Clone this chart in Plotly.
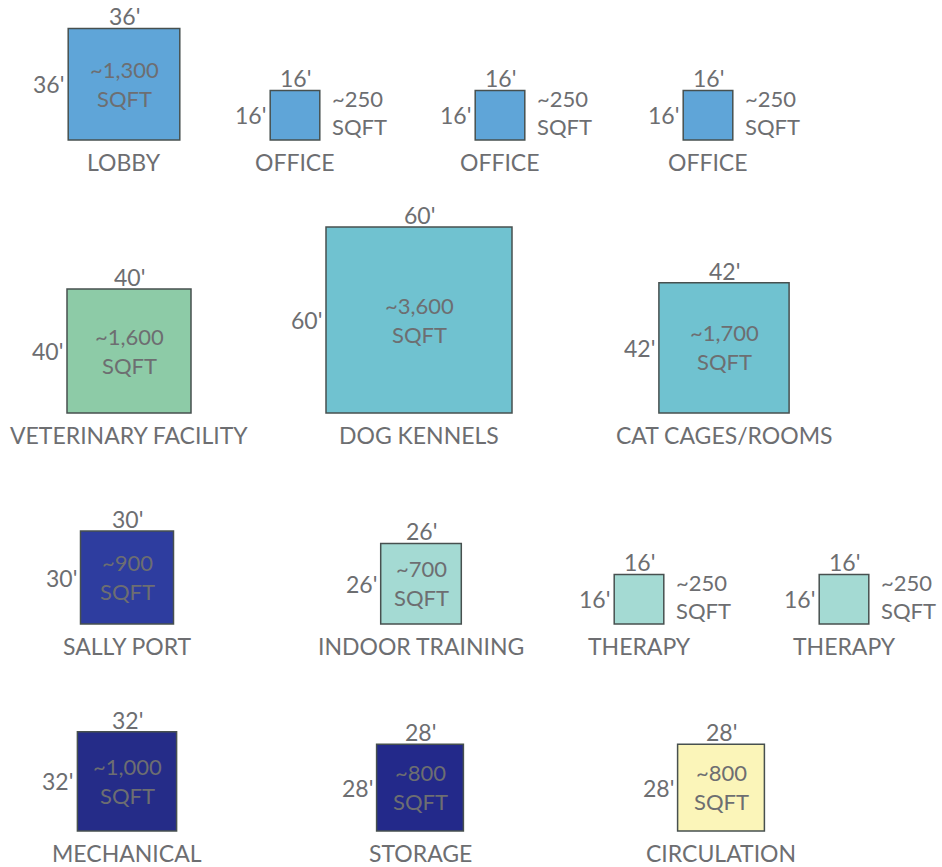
import plotly.graph_objects as go

# ---------------- data ----------------
rooms = ["LOBBY", "OFFICE", "OFFICE", "OFFICE",
         "VETERINARY FACILITY", "DOG KENNELS", "CAT CAGES/ROOMS",
         "SALLY PORT", "INDOOR TRAINING", "THERAPY", "THERAPY",
         "MECHANICAL", "STORAGE", "CIRCULATION"]
side_ft = [36, 16, 16, 16,
           40, 60, 42,
           30, 26, 16, 16,
           32, 28, 28]
area_label = ["~1,300", "~250", "~250", "~250",
              "~1,600", "~3,600", "~1,700",
              "~900", "~700", "~250", "~250",
              "~1,000", "~800", "~800"]
area_inside = [True, False, False, False,
               True, True, True,
               True, True, False, False,
               True, True, True]

# ---------------- layout / style (page pixel coordinates) ----------------
W, H = 942, 867
SCALE = 3.1                # px per foot
center_x = [124, 295, 500, 708,
            129, 419, 724,
            127, 421, 639, 844,
            127, 420, 721]
bottom_y = [140, 140, 140, 140,
            413, 413, 413,
            624, 624, 624, 624,
            831, 831, 831]
fill_colors = ["#5fa5d8", "#5fa5d8", "#5fa5d8", "#5fa5d8",
               "#8dcba7", "#70c2d0", "#70c2d0",
               "#2e3d9f", "#a4dad3", "#a4dad3", "#a4dad3",
               "#252c88", "#23298a", "#fbf5b9"]
TXT = "#6d6e71"
FONT = "Lato"
DIM_SIZE = 23
AREA_SIZE = 22
NAME_SIZE = 23

fig = go.Figure()
fig.add_trace(go.Scatter(x=[0, W], y=[0, H],
                         mode="markers", marker=dict(opacity=0),
                         hoverinfo="skip", showlegend=False))

shapes = []
ann = []


def add_text(x, y, text, size, xanchor="center", yanchor="middle"):
    ann.append(dict(x=x, y=y, xref="x", yref="y", text=text, showarrow=False,
                    xanchor=xanchor, yanchor=yanchor,
                    font=dict(family=FONT, size=size, color=TXT)))


for name, ft, area, inside, cx, by, col in zip(rooms, side_ft, area_label,
                                                area_inside, center_x,
                                                bottom_y, fill_colors):
    s = ft * SCALE
    x0, x1 = cx - s / 2, cx + s / 2
    y1, y0 = by, by - s
    shapes.append(dict(type="rect", xref="x", yref="y", x0=x0, x1=x1,
                       y0=y0, y1=y1, fillcolor=col,
                       line=dict(color="#47504f", width=1.5), layer="below"))
    ym = (y0 + y1) / 2
    add_text(cx, y0 - 12, f"{ft}'", DIM_SIZE)
    add_text(x0 - 2, ym, f"{ft}'", DIM_SIZE, xanchor="right")
    if inside:
        add_text(cx, ym - 15, area, AREA_SIZE)
        add_text(cx, ym + 14, "SQFT", AREA_SIZE)
    else:
        add_text(x1 + 10, ym - 17, area, AREA_SIZE, xanchor="left")
        add_text(x1 + 10, ym + 11, "SQFT", AREA_SIZE, xanchor="left")
    add_text(cx, by + 22, name, NAME_SIZE)

fig.update_layout(
    width=W, height=H,
    margin=dict(l=0, r=0, t=0, b=0, pad=0),
    paper_bgcolor="white", plot_bgcolor="white",
    xaxis=dict(range=[0, W], visible=False, fixedrange=True),
    yaxis=dict(range=[H, 0], visible=False, fixedrange=True),
    shapes=shapes, annotations=ann, showlegend=False,
)
fig.write_html(
    "out.html",
    config={"displayModeBar": False, "staticPlot": True},
    post_script="document.body.style.margin='0';"
                "document.body.style.overflow='hidden';"
                "document.documentElement.style.overflow='hidden';",
)
